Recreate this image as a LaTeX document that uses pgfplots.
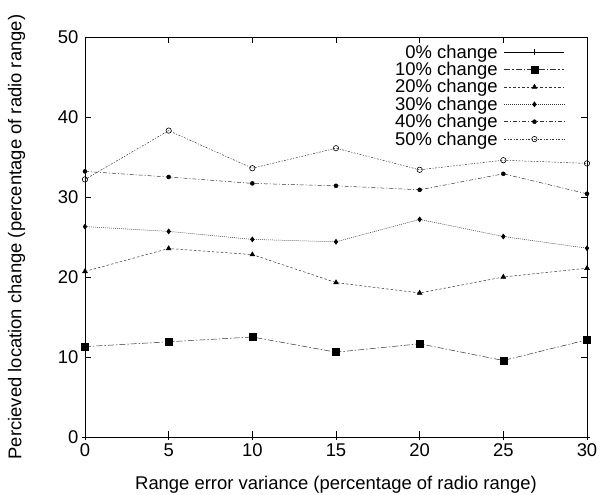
\documentclass[border=0pt]{standalone}
\usepackage{fontspec}
\setmainfont{Liberation Sans}
\usepackage{pgfplots}
\pgfplotsset{compat=1.18}
\begin{document}
\begin{tikzpicture}
\begin{axis}[
  scale only axis,
  width=502bp, height=400bp,
  xmin=0, xmax=30, ymin=0, ymax=50,
  xtick={0,5,...,30}, ytick={0,10,...,50},
  tick align=inside,
  major tick length=6bp,
  axis line style={black, line width=0.8pt},
  tick style={black, line width=0.6pt},
  font=\fontsize{18.5}{20}\selectfont,
  /pgf/number format/assume math mode=true,
  xticklabel style={yshift=-3bp},
  yticklabel style={xshift=-3bp},
  xlabel={Range error variance (percentage of radio range)},
  ylabel={Percieved location change (percentage of radio range)},
  xlabel style={yshift=-13bp},
  ylabel style={yshift=26bp},
  legend plot pos=right,
  legend cell align=right,
  legend style={draw=none, fill=none, at={(0.956,0.982)}, anchor=north east,
    row sep=1.5bp, column sep=6bp, inner sep=0bp, font=\fontsize{18.5}{19}\selectfont,
    nodes={inner sep=0.5bp}},
  legend image code/.code={\draw[mark repeat=2,mark phase=2] plot coordinates {(0bp,0bp) (30bp,0bp) (60bp,0bp)};},
  clip=false,
]
\coordinate (bl) at (rel axis cs:0,0);
\coordinate (tr) at (rel axis cs:1,1);
\addplot[black, line width=0.5pt, mark=+, mark size=3bp] coordinates {(0,0) (5,0) (10,0) (15,0) (20,0) (25,0) (30,0)};
\addlegendentry{0\% change}
\addplot[black!80, line width=0.5pt, dash pattern=on 6pt off 2pt on 1.5pt off 2pt, mark=square*, mark size=3.5bp, mark options={solid, fill=black, draw=black}] coordinates {(0,11.3) (5,11.9) (10,12.5) (15,10.6) (20,11.65) (25,9.56) (30,12.15)};
\addlegendentry{10\% change}
\addplot[black!80, line width=0.5pt, dash pattern=on 2.5pt off 2pt, mark=triangle*, mark size=2.8bp, mark options={solid, fill=black, draw=black}] coordinates {(0,20.7) (5,23.56) (10,22.8) (15,19.3) (20,18.0) (25,20.0) (30,21.1)};
\addlegendentry{20\% change}
\addplot[black!80, line width=0.5pt, dash pattern=on 1pt off 1pt, mark=diamond*, mark size=2.5bp, mark options={solid, fill=black, draw=black}] coordinates {(0,26.3) (5,25.7) (10,24.7) (15,24.4) (20,27.2) (25,25.06) (30,23.6)};
\addlegendentry{30\% change}
\addplot[black!80, line width=0.5pt, dash pattern=on 4pt off 2pt on 1pt off 2pt, mark=*, mark size=2bp, mark options={solid, fill=black, draw=black}] coordinates {(0,33.2) (5,32.5) (10,31.7) (15,31.4) (20,30.9) (25,32.9) (30,30.4)};
\addlegendentry{40\% change}
\addplot[black!80, line width=0.5pt, dash pattern=on 2pt off 1.5pt on 1pt off 1.5pt, mark=o, mark size=2.7bp, mark options={solid, draw=black, line width=0.6pt}] coordinates {(0,32.2) (5,38.3) (10,33.6) (15,36.1) (20,33.4) (25,34.6) (30,34.2)};
\addlegendentry{50\% change}
\end{axis}
\pgfresetboundingbox
\path ([shift={(-85bp,-58bp)}]bl) rectangle ([shift={(15bp,37bp)}]tr);
\end{tikzpicture}
\end{document}
